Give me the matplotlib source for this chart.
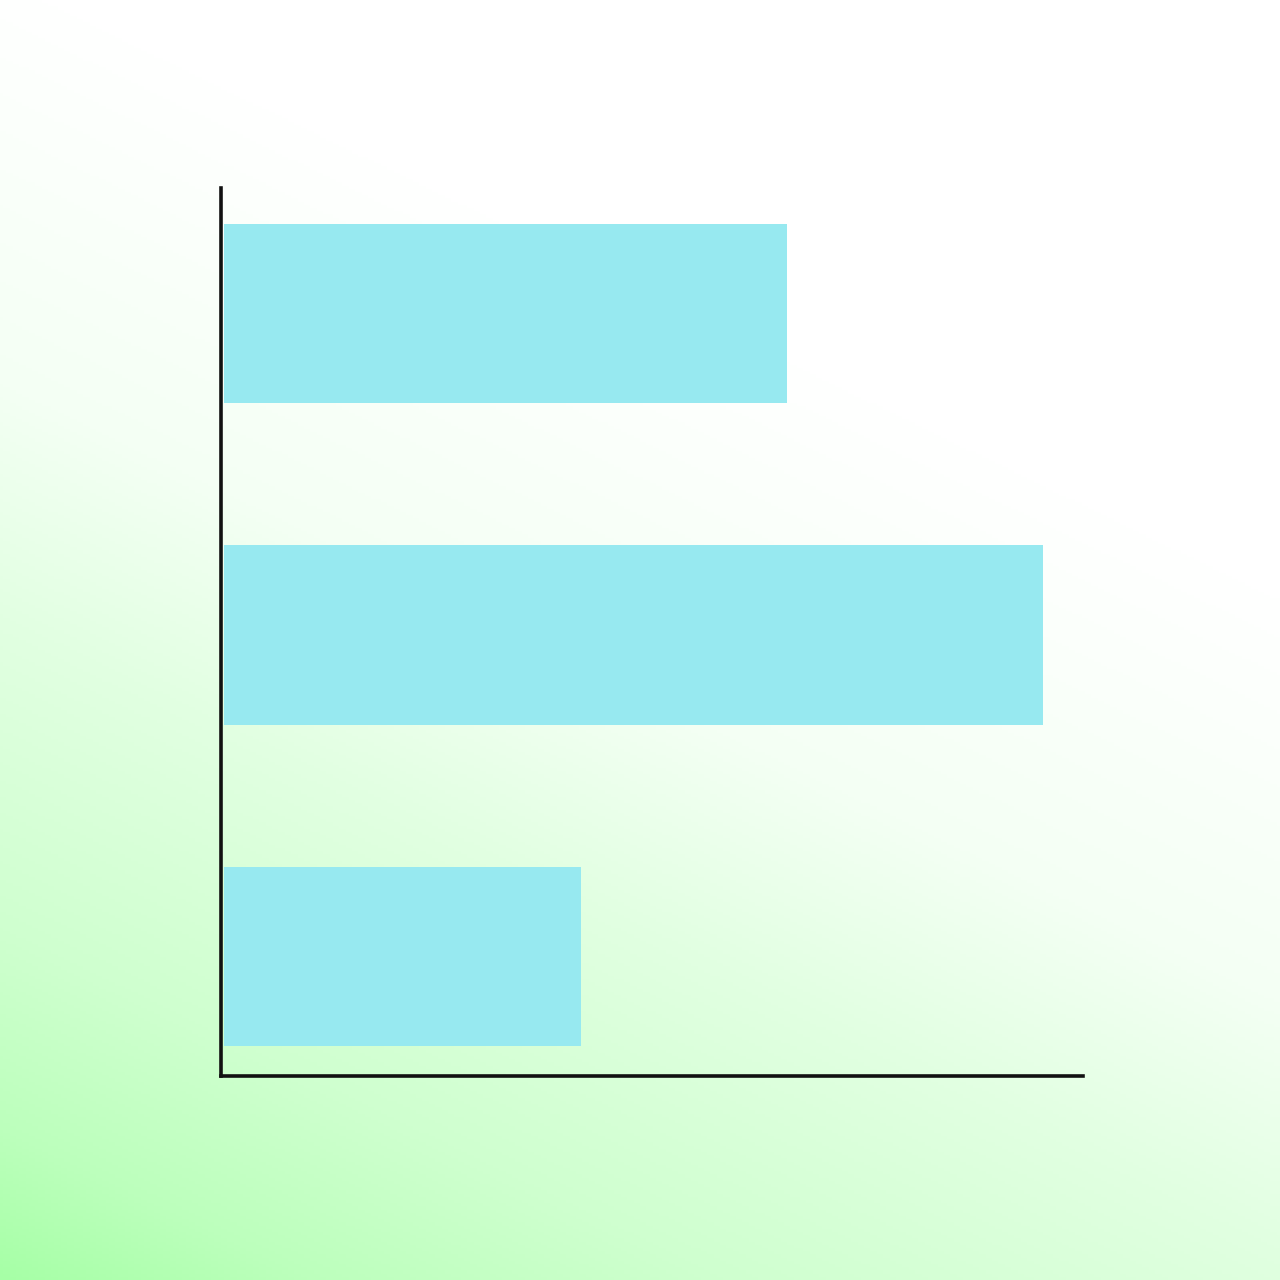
import numpy as np
import matplotlib
matplotlib.use('Agg')
import matplotlib.pyplot as plt

# Chart data (no visible labels in the reference)
categories = ['C', 'B', 'A']          # bottom to top
values = [41.5, 95.3, 65.5]

bar_color = '#97e9f0'

fig = plt.figure(figsize=(12.8, 12.8), dpi=100)

# Background gradient: green in the bottom-left corner fading to white
bg = fig.add_axes([0, 0, 1, 1], zorder=0)
n = 400
px = np.linspace(0, 1280, n)
xx, yy = np.meshgrid(px, px)
t = xx / 2.065 + yy
g = np.interp(t, [0, 150, 350, 660, 900, 1300], [1.0, 0.75, 0.54, 0.33, 0.12, 0.0])
start = np.array([0xa6, 0xff, 0xa6]) / 255
img = np.ones((n, n, 3)) - g[..., None] * (1 - start)
bg.imshow(img, origin='lower', extent=[0, 1, 0, 1], aspect='auto')
bg.axis('off')

# Main chart
ax = fig.add_axes([221 / 1280, 204 / 1280, 862 / 1280, 888 / 1280], zorder=1)
ax.patch.set_alpha(0)
y = np.arange(len(categories))
ax.barh(y, values, height=0.558, color=bar_color, left=0)
ax.set_xlim(-0.35, 99.9)
ax.set_ylim(-0.372, 2.391)

for side in ['top', 'right']:
    ax.spines[side].set_visible(False)
for side in ['left', 'bottom']:
    ax.spines[side].set_linewidth(2.6)
    ax.spines[side].set_color('#111111')
ax.set_xticks([])
ax.set_yticks([])

fig.savefig('out.png', dpi=100)
